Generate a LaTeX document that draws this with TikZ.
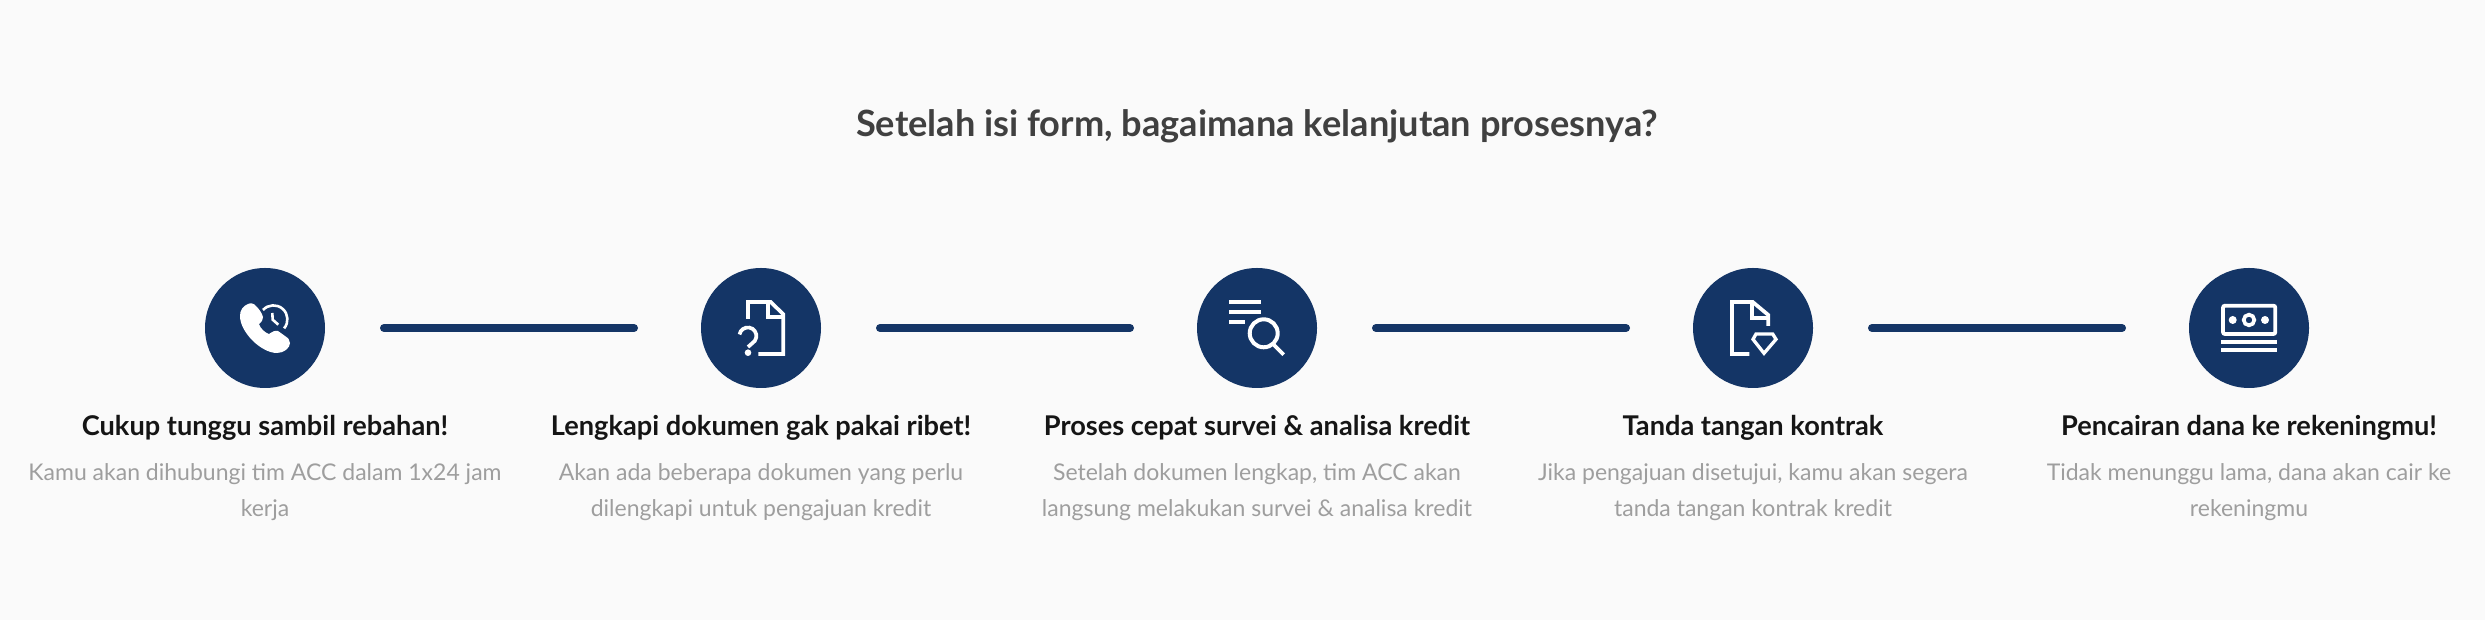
\documentclass[tikz,border=0pt]{standalone}
\usepackage{fontspec}
\setmainfont{Lato}
\usetikzlibrary{positioning}
\definecolor{pagebg}{HTML}{FAFAFA}
\definecolor{navy}{HTML}{143566}
\definecolor{titlegray}{HTML}{404040}
\definecolor{headblack}{HTML}{151515}
\definecolor{descgray}{HTML}{9E9E9E}
\tikzset{
	stepdot/.style={circle, fill=navy, minimum size=120pt, inner sep=0pt, outer sep=0pt},
	stephead/.style={font=\fontsize{27.2}{32}\selectfont\bfseries, text=headblack, inner sep=0pt, text height=20pt, text depth=7pt},
	stepdesc/.style={font=\fontsize{23}{36}\selectfont, text=descgray, inner sep=0pt, align=center, execute at begin node=\strut},
	stepline/.style={draw=navy, line width=8pt, line cap=round, shorten <=59pt, shorten >=67pt},
	iconline/.style={draw=white, line width=3.7pt},
}
\begin{document}
\begin{tikzpicture}[x=1pt, y=1pt]
	\useasboundingbox (0,0) rectangle (2485,620);
	\fill[pagebg] (0,0) rectangle (2485,620);
	\node[font=\fontsize{36.2}{42}\selectfont\bfseries, text=titlegray, anchor=base] (title) at (1257,483) {Setelah isi form, bagaimana kelanjutan prosesnya?};

	\node[stepdot] (call) at (265,292) {};
	\node[stepdot, right=376pt of call] (docs) {};
	\node[stepdot, right=376pt of docs] (survey) {};
	\node[stepdot, right=376pt of survey] (sign) {};
	\node[stepdot, right=376pt of sign] (cash) {};

	\node[stephead, below=27pt of call] (callhead) {Cukup tunggu sambil rebahan!};
	\node[stephead, below=27pt of docs] (docshead) {Lengkapi dokumen gak pakai ribet!};
	\node[stephead, below=27pt of survey] (surveyhead) {Proses cepat survei \& analisa kredit};
	\node[stephead, below=27pt of sign] (signhead) {Tanda tangan kontrak};
	\node[stephead, below=27pt of cash] (cashhead) {Pencairan dana ke rekeningmu!};

	\node[stepdesc, below=21pt of callhead] (calldesc) {Kamu akan dihubungi tim ACC dalam 1x24 jam\\kerja};
	\node[stepdesc, below=21pt of docshead] (docsdesc) {Akan ada beberapa dokumen yang perlu\\dilengkapi untuk pengajuan kredit};
	\node[stepdesc, below=21pt of surveyhead] (surveydesc) {Setelah dokumen lengkap, tim ACC akan\\langsung melakukan survei \& analisa kredit};
	\node[stepdesc, below=21pt of signhead] (signdesc) {Jika pengajuan disetujui, kamu akan segera\\tanda tangan kontrak kredit};
	\node[stepdesc, below=21pt of cashhead] (cashdesc) {Tidak menunggu lama, dana akan cair ke\\rekeningmu};

	\draw[stepline] (call) -- (docs);
	\draw[stepline] (docs) -- (survey);
	\draw[stepline] (survey) -- (sign);
	\draw[stepline] (sign) -- (cash);

	% phone
	\begin{scope}[shift={(call.center)}]
		\fill[white] (-17,24) .. controls (-22,22) and (-25,18) .. (-25,12)
			.. controls (-25,-4) and (-4,-25) .. (12,-25)
			.. controls (19,-25) and (25,-20) .. (25,-15)
			.. controls (25,-12) and (23,-10) .. (20,-8)
			-- (13,-3) .. controls (10,-2) and (7,-4) .. (4,-6)
			.. controls (0,-5) and (-5,0) .. (-6,4)
			.. controls (-3,6) and (-2,9) .. (-2,11)
			.. controls (-3,15) and (-6,19) .. (-9,22)
			.. controls (-11,25) and (-15,25) .. (-17,24) -- cycle;
		\draw[iconline, line width=2.6pt] (-2,18) arc[start angle=138, end angle=-40, radius=14pt];
		\draw[iconline, line width=2.6pt] (7.3,15) -- (7.7,8.3) -- (13.3,3.3);
	\end{scope}
	% document with question mark
	\begin{scope}[shift={(docs.center)}]
		\draw[iconline] (-13,9) -- (-13,26) -- (9.7,26) -- (22.3,13.7) -- (22.3,-26) -- (-2.7,-26);
		\draw[iconline] (7,26) -- (7,10.7) -- (22.3,10.7);
		\draw[iconline] (-21.5,-6.5) arc[start angle=170, end angle=-60, radius=8.5pt] -- (-13,-19);
		\fill[white] (-13,-24.7) circle[radius=3.3pt];
	\end{scope}
	% list with magnifier
	\begin{scope}[shift={(survey.center)}]
		\draw[iconline, line width=4pt] (-28,26) -- (4,26);
		\draw[iconline, line width=4pt] (-28,16.3) -- (4,16.3);
		\draw[iconline, line width=4pt] (-28,6.3) -- (-12,6.3);
		\draw[iconline, line width=4pt] (6.7,-5.3) circle[radius=14pt];
		\draw[iconline] (16.7,-16.7) -- (26.7,-26.7);
	\end{scope}
	% document with diamond
	\begin{scope}[shift={(sign.center)}]
		\draw[iconline] (-3.7,-26) -- (-21,-26) -- (-21,26) -- (-0.3,26) -- (15.3,13) -- (15.3,2);
		\draw[iconline] (-1,26) -- (-1,10) -- (15.3,10);
		\draw[iconline, line width=3.3pt] (3,-6) -- (19.7,-6) -- (23,-11.3) -- (11,-25.3) -- (0,-11.3) -- cycle;
	\end{scope}
	% banknotes
	\begin{scope}[shift={(cash.center)}]
		\draw[iconline, line width=3.8pt, rounded corners=2pt] (-26,22.3) rectangle (26.3,-6);
		\draw[iconline] (0,8) circle[radius=5.3pt];
		\fill[white] (-16.3,8) circle[radius=4pt];
		\fill[white] (16,8) circle[radius=4pt];
		\draw[iconline, line width=4pt] (-28,-14) -- (28,-14);
		\draw[iconline, line width=4pt] (-28,-22) -- (28,-22);
	\end{scope}
\end{tikzpicture}
\end{document}
